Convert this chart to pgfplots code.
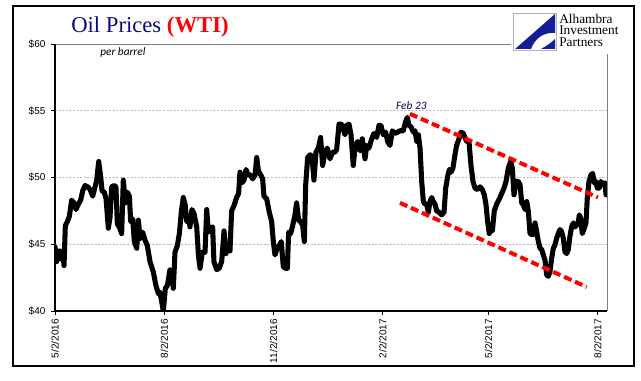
\documentclass[border=0pt]{standalone}
\usepackage{pgfplots}
\pgfplotsset{compat=1.18}
\usepackage{fontspec}
\setmainfont{Liberation Sans}
\newfontfamily\serifx{Liberation Serif}
\newfontfamily\carlito{Carlito}
\definecolor{navy}{RGB}{10,10,128}
\definecolor{logoblue}{RGB}{20,30,150}
\begin{document}
\begin{tikzpicture}[x=0.75pt,y=0.75pt]
\path (0,0) rectangle (641,381);
\begin{axis}[name=ax,
  at={(41.25pt,52.5pt)}, anchor=south west,
  scale only axis, width=414pt, height=200.25pt,
  xmin=0, xmax=464.7, ymin=40, ymax=60,
  xtick={0,92,184,276,365,457},
  xticklabels={5/2/2016,8/2/2016,11/2/2016,2/2/2017,5/2/2017,8/2/2017},
  ytick={40,45,50,55,60},
  yticklabels={\$40,\$45,\$50,\$55,\$60},
  axis line style={draw=none},
  ymajorgrids, grid style={gray!55, line width=0.5pt, dash pattern=on 1.5pt off 1.2pt},
  tick style={black, line width=0.6pt},
  major tick length=3pt, tick align=outside,
  xtick pos=left, ytick pos=left,
  x tick label style={rotate=90, anchor=east, font=\fontsize{7.5}{9}\selectfont, inner sep=1pt},
  y tick label style={font=\fontsize{7.5}{9}\selectfont, inner sep=1.5pt, xshift=-2.5pt},
  xticklabel shift=2pt,
]
\addplot[black, line width=3.8pt, line join=round, line cap=round] coordinates {
(0,44.8)(1.4,43.7)(3.6,44.5)(4.8,43.9)(6.5,44.5)(7.6,43.4)(8.7,46.4)(10.4,46.7)(12.1,47.1)(14.0,48.3)(16.0,48.1)(17.7,47.6)(19.6,48.0)(21.6,48.3)(23.3,49.0)(25.3,49.4)(27.5,49.3)(29.5,49.1)(31.7,48.6)(33.7,49.3)(35.1,49.8)(36.8,51.2)(38.4,50.1)(39.6,49.0)(41.5,48.9)(43.0,48.4)(44.9,46.2)(46.3,47.0)(47.7,49.3)(49.7,49.4)(51.3,49.3)(52.5,46.5)(54.1,46.3)(56.1,45.8)(57.5,49.8)(59.2,48.1)(60.9,48.9)(62.6,48.6)(63.7,46.7)(65.4,46.9)(66.8,45.2)(68.8,44.7)(70.2,46.8)(71.6,45.4)(73.8,45.9)(75.8,45.3)(77.7,44.9)(80.0,43.7)(82.8,42.9)(85.0,41.9)(87.0,41.3)(88.4,41.4)(89.8,40.7)(91.2,40.0)(92.9,41.7)(94.6,41.9)(96.8,43.1)(98.5,42.7)(99.6,41.7)(101.0,44.4)(103.0,44.9)(104.7,45.8)(106.3,47.4)(108.0,48.5)(109.7,47.9)(110.8,46.7)(112.5,47.1)(113.6,46.3)(115.3,47.6)(117.0,47.3)(119.3,46.3)(120.7,44.2)(122.1,43.2)(124.0,44.4)(126.3,44.4)(127.7,47.6)(129.1,45.9)(131.0,46.2)(132.7,46.3)(133.8,43.7)(136.1,43.1)(138.3,43.2)(140.3,43.7)(142.3,46.0)(143.9,44.3)(145.9,44.9)(147.3,44.5)(148.7,47.5)(150.7,47.9)(152.9,48.5)(154.6,48.8)(155.7,50.4)(157.4,49.6)(159.1,49.8)(160.8,50.6)(162.5,50.2)(164.2,50.2)(166.4,49.9)(168.4,50.2)(169.8,51.5)(171.2,50.5)(173.1,50.2)(174.8,49.9)(175.9,48.6)(178.2,48.4)(180.4,47.4)(182.4,46.7)(183.8,45.2)(185.2,44.2)(187.2,44.7)(188.8,44.9)(190.5,45.2)(192.2,43.3)(194.2,43.2)(195.6,43.2)(196.7,45.9)(198.4,45.8)(200.1,46.4)(201.8,47.1)(203.4,48.1)(205.1,46.8)(206.8,46.7)(208.5,46.4)(209.9,45.2)(211.0,49.4)(212.7,51.5)(214.7,51.7)(216.3,51.6)(218.0,49.8)(219.7,51.9)(221.7,52.2)(223.6,53.0)(225.3,50.9)(227.3,51.9)(229.2,52.2)(231.5,51.4)(233.7,51.9)(235.7,51.9)(237.1,52.1)(239.1,54.0)
(241.3,54.0)(244.1,53.2)(245.5,53.9)(247.5,54.0)(249.2,53.2)(251.1,50.9)(252.5,52.2)(254.8,52.7)(256.8,52.0)(258.7,52.9)(261.0,51.4)(262.4,52.4)(264.3,52.2)(266.6,52.9)(268.5,53.3)(270.8,53.0)(272.7,53.9)(274.4,53.9)(276.4,53.2)(278.4,53.4)(280.0,52.7)(282.0,52.4)(284.0,53.5)(286.2,53.3)
(288.5,53.4)(290.4,53.5)(293.2,53.5)(295.2,54.2)(296.6,54.5)(298.0,53.9)(299.7,53.8)(301.7,53.4)(303.1,53.5)(304.5,52.7)(305.9,53.2)(307.3,52.2)(308.7,49.7)(310.1,48.2)(311.5,48.0)(312.9,48.0)(314.3,47.4)(315.7,48.2)(317.1,48.5)(318.5,48.2)(319.9,48.0)(321.3,47.5)(323.3,47.4)(325.5,47.2)(327.5,47.4)(328.9,49.2)(330.6,50.1)(332.0,50.6)(333.4,50.4)(335.0,50.7)(336.7,51.7)(338.1,52.4)(340.1,52.9)(341.8,53.4)(343.7,53.3)(345.1,53.0)(346.5,52.7)(348.5,52.7)(350.2,50.9)(351.9,49.7)(353.6,49.2)(355.8,49.1)(357.8,49.3)(359.7,49.1)(361.4,48.7)(362.8,48.0)(364.2,46.7)(365.6,45.8)(367.0,46.3)(368.2,46.0)(369.8,47.5)(371.8,48.0)(374.6,48.5)
(376.0,48.8)(378.0,49.2)(379.7,49.7)(381.6,50.7)(383.6,51.2)(385.0,50.7)(386.4,48.7)(388.1,49.7)(390.1,49.7)(391.5,49.45)(392.9,48.1)(394.3,47.95)(395.7,47.6)(397.1,48.2)(398.5,47.45)(399.9,45.8)(402.1,45.7)(404.1,46.6)(405.5,45.95)(406.9,45.2)(408.3,44.7)(409.7,44.6)(411.1,44.2)(412.5,43.8)(413.9,42.7)(415.3,42.6)(416.7,42.95)(418.1,43.95)(419.5,44.7)(420.9,44.95)(422.3,45.45)(423.7,45.8)(425.1,46.1)(426.5,45.95)(427.9,45.45)(429.3,44.45)(430.7,44.3)(432.1,44.6)(433.5,45.6)(434.9,46.3)(436.4,46.6)(437.8,46.3)(439.2,46.45)(440.6,46.7)(441.4,47.2)(442.5,46.95)(443.9,45.8)(445.6,46.2)(447.0,46.6)(448.1,48.45)(449.5,49.7)(451.2,50.2)(452.6,50.3)(454.0,49.6)(455.4,49.7)(456.6,49.2)(458.2,49.2)(459.6,49.7)(461.6,49.45)(463.0,49.6)(463.9,48.7)
};
\addplot[red, line width=3pt, dash pattern=on 6pt off 3pt] coordinates {(298.8,54.77)(457.1,48.5)};
\addplot[red, line width=3pt, dash pattern=on 6pt off 3pt] coordinates {(290.4,48.1)(447.6,41.8)};
\node[anchor=base west, inner sep=0pt, font=\carlito\itshape\fontsize{8.5}{10}\selectfont, text=navy!60!black] at (axis cs:287,55.06) {Feb 23};
\end{axis}
\draw[gray, line width=0.6pt] (ax.north west) -- (ax.north east) -- (ax.south east);
\draw[black, line width=0.8pt] (ax.north west) -- (ax.south west) -- (ax.south east);
% white area behind logo
\fill[white] (511,327) rectangle (630,372);
% outer frame
\draw[black, line width=1.1pt] (13,15) rectangle (634,375);
% title
\node[anchor=base west, inner sep=0pt, font=\serifx\fontsize{17}{20}\selectfont] at (71,348) {\textcolor{navy}{Oil Prices} \textcolor{red}{\bfseries(WTI)}};
\node[anchor=base west, inner sep=0pt, font=\carlito\itshape\fontsize{8.5}{10}\selectfont, text=black] at (100,325) {per barrel};
% logo
\draw[gray!60, line width=0.5pt, fill=white] (513,331) rectangle (556,368);
\fill[logoblue] (555,367) -- (515,332) -- (531,332) .. controls (535,343) and (544,349) .. (555,348) -- cycle;
\fill[logoblue] (541,332) .. controls (548,336) and (552,339) .. (555,342) -- (555,332) -- cycle;
\node[anchor=north west, inner sep=0pt, align=left, font=\serifx\fontsize{10}{8.6}\selectfont, text=black] at (559,367) {Alhambra\\Investment\\Partners};
\end{tikzpicture}
\end{document}
